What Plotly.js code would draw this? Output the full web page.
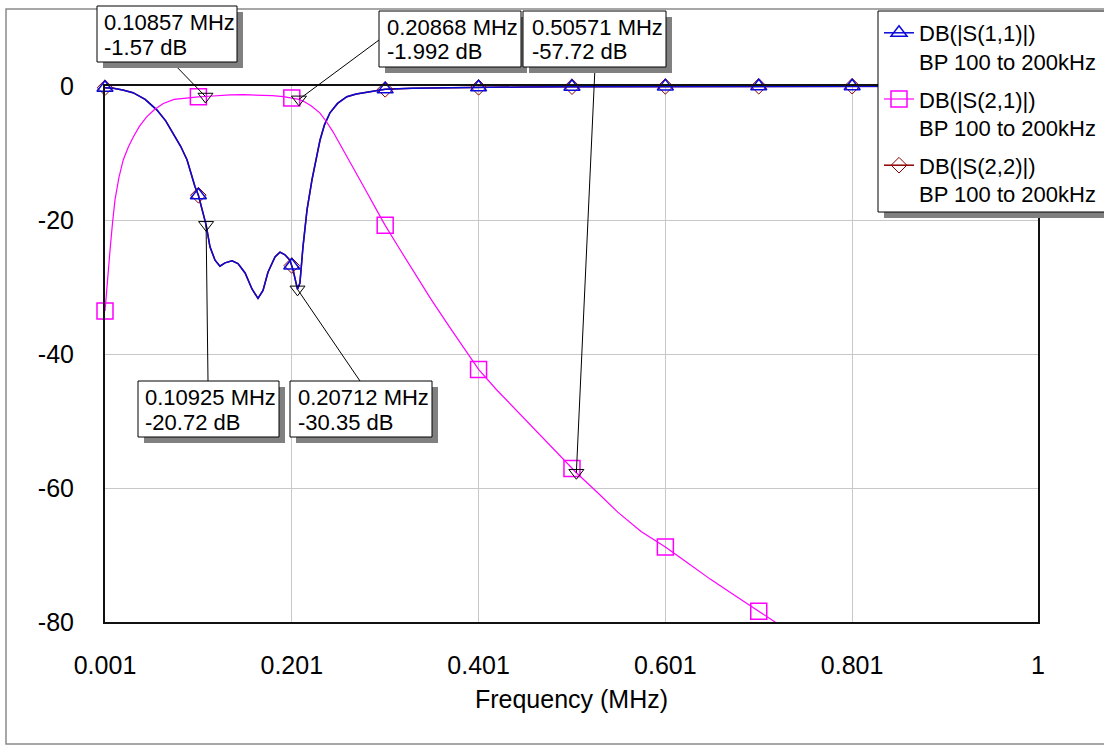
<!DOCTYPE html>
<html><head><meta charset="utf-8">
<script src="https://cdn.plot.ly/plotly-3.0.1.min.js"></script>
<style>html,body{margin:0;padding:0;background:#fff;} #chart{width:1104px;height:745px;}</style>
</head><body><div id="chart"></div>
<script>
// ---------- DATA ----------
const freqS21 = [0.001,0.0035,0.0064,0.009,0.0117,0.016,0.0206,0.026,0.0313,0.038,0.0456,0.054,0.0634,0.075,0.0885,0.101,0.10857,0.12,0.135,0.15,0.165,0.18,0.192,0.201,0.20868,0.215,0.222,0.231,0.238,0.245,0.254,0.263,0.272,0.2815,0.291,0.301,0.315,0.33,0.35,0.37,0.39,0.401,0.42,0.45,0.48,0.50571,0.53,0.55,0.575,0.601,0.625,0.649,0.675,0.701,0.725];
const dbS21 = [-33.6,-29.0,-24.5,-20.5,-17.0,-13.6,-11.0,-9.1,-7.6,-6.0,-4.6,-3.5,-2.6,-2.0,-1.75,-1.62,-1.57,-1.42,-1.32,-1.3,-1.35,-1.45,-1.6,-1.78,-1.992,-2.4,-3.0,-4.0,-5.3,-6.8,-9.0,-11.3,-13.6,-15.9,-18.3,-20.8,-24.0,-27.4,-31.8,-36.0,-40.1,-42.3,-45.3,-49.6,-53.9,-57.72,-60.9,-63.6,-66.5,-68.8,-71.2,-73.6,-76.0,-78.4,-80.6];

const freqS11 = [0.001,0.01,0.02,0.031,0.044,0.0567,0.066,0.0738,0.082,0.0888,0.0973,0.101,0.1045,0.1081,0.10925,0.1134,0.1188,0.1241,0.1295,0.137,0.1434,0.151,0.1584,0.1648,0.1702,0.1755,0.183,0.1884,0.1937,0.199,0.2023,0.20712,0.2097,0.213,0.2173,0.2226,0.228,0.2312,0.236,0.2419,0.25,0.26,0.27,0.2815,0.301,0.33,0.36,0.401,0.45,0.501,0.6,0.7,0.8,0.9,1.0];
const dbS11 = [-0.25,-0.35,-0.6,-1.0,-2.0,-3.6,-5.2,-7.0,-9.0,-11.0,-15.0,-16.3,-18.3,-20.0,-20.72,-24.0,-26.0,-26.9,-26.4,-26.1,-26.5,-27.9,-30.3,-31.7,-30.5,-27.8,-25.5,-24.8,-25.2,-26.0,-27.4,-30.35,-29.4,-24.0,-18.5,-14.0,-10.5,-8.1,-5.8,-4.0,-2.6,-1.6,-1.2,-0.9,-0.5,-0.35,-0.28,-0.2,-0.14,-0.1,-0.06,-0.04,-0.03,-0.02,-0.02];

const freqS22 = [0.001,0.01,0.02,0.031,0.044,0.0567,0.066,0.0738,0.082,0.0888,0.0973,0.101,0.1045,0.1081,0.10925,0.1134,0.1188,0.1241,0.1295,0.137,0.1434,0.151,0.1584,0.1648,0.1702,0.1755,0.183,0.1884,0.1937,0.199,0.2023,0.20712,0.2097,0.213,0.2173,0.2226,0.228,0.2312,0.236,0.2419,0.25,0.26,0.27,0.2815,0.301,0.33,0.36,0.401,0.45,0.501,0.6,0.7,0.8,0.9,1.0];
const dbS22 = [-0.25,-0.35,-0.6,-1.0,-2.0,-3.6,-5.2,-7.0,-9.0,-11.0,-15.0,-16.3,-18.3,-20.0,-20.72,-24.0,-26.0,-26.9,-26.4,-26.1,-26.5,-27.9,-30.3,-31.7,-30.5,-27.8,-25.5,-24.8,-25.2,-26.0,-27.4,-30.35,-29.4,-24.0,-18.5,-14.0,-10.5,-8.1,-5.8,-4.0,-2.6,-1.6,-1.2,-0.9,-0.5,-0.35,-0.28,-0.2,-0.14,-0.1,-0.06,-0.04,-0.03,-0.02,-0.02];

const markFreqS11 = [0.001,0.101,0.201,0.301,0.401,0.501,0.601,0.701,0.801,0.901];
const markDbS11   = [-0.25,-16.3,-26.8,-0.5,-0.2,-0.1,-0.06,-0.04,-0.03,-0.02];
const markFreqS22 = [0.001,0.101,0.201,0.301,0.401,0.501,0.601,0.701,0.801,0.901];
const markDbS22   = [-0.25,-16.3,-26.8,-0.5,-0.2,-0.1,-0.06,-0.04,-0.03,-0.02];
const markFreqS21 = [0.001,0.101,0.201,0.301,0.401,0.501,0.601,0.701];
const markDbS21   = [-33.6,-1.62,-1.78,-20.8,-42.3,-57.1,-68.8,-78.4];

const seriesLine1 = ['DB(|S(1,1)|)','DB(|S(2,1)|)','DB(|S(2,2)|)'];
const seriesLine2 = ['BP 100 to 200kHz','BP 100 to 200kHz','BP 100 to 200kHz'];

const readoutFreq = [0.10857,0.20868,0.50571,0.10925,0.20712];
const readoutDb   = [-1.57,-1.992,-57.72,-20.72,-30.35];
const readoutLine1 = ['0.10857 MHz','0.20868 MHz','0.50571 MHz','0.10925 MHz','0.20712 MHz'];
const readoutLine2 = ['-1.57 dB','-1.992 dB','-57.72 dB','-20.72 dB','-30.35 dB'];

const xTickVals = [0.001,0.201,0.401,0.601,0.801,1];
const xTickText = ['0.001','0.201','0.401','0.601','0.801','1'];
const yTickVals = [0,-20,-40,-60,-80];
const yTickText = ['0','-20','-40','-60','-80'];
const xTitle = 'Frequency (MHz)';

// ---------- LAYOUT GEOMETRY (pixels) ----------
const W = 1104, H = 745;
const L = 105, R = 1038, T = 86, B = 622;
const X_RANGE = [0.001, 1], Y_RANGE = [-80, 0];
const pxX = px => (px - L) / (R - L);
const pxY = py => (B - py) / (B - T);
const dataX = f => (f - X_RANGE[0]) / (X_RANGE[1] - X_RANGE[0]);
const dataY = d => (d - Y_RANGE[0]) / (Y_RANGE[1] - Y_RANGE[0]);

// readout boxes: box rect, text left, leader start point
const boxes = [
  {x0:97,  y0:6,   x1:237, y1:62,  tx:102, lx:172, ly:62},
  {x0:379, y0:11,  x1:521, y1:67,  tx:385, lx:379, ly:40},
  {x0:523, y0:11,  x1:666, y1:67,  tx:530, lx:595, ly:67},
  {x0:138, y0:381, x1:279, y1:437, tx:143, lx:208, ly:381},
  {x0:290, y0:381, x1:432, y1:437, tx:296, lx:360, ly:381}
];

const FONT = 'Liberation Sans, Arial, sans-serif';
const BLUE = '#0a0ad8', MAG = '#ff00ff', DRED = '#8b0000';

const traces = [
  {x: freqS22, y: dbS22, mode:'lines', line:{color:DRED, width:1.5}, showlegend:false, hoverinfo:'skip'},
  {x: freqS11, y: dbS11, mode:'lines', line:{color:BLUE, width:1.5}, showlegend:false, hoverinfo:'skip'},
  {x: freqS21, y: dbS21, mode:'lines', line:{color:MAG, width:1.2}, showlegend:false, hoverinfo:'skip'},
  {x: markFreqS22, y: markDbS22, mode:'markers', cliponaxis:false, showlegend:false,
   marker:{symbol:'diamond-open', size:12, color:DRED, line:{width:1}}},
  {x: markFreqS11, y: markDbS11, mode:'markers', cliponaxis:false, showlegend:false,
   marker:{symbol:'triangle-up-open', size:14, color:BLUE, line:{width:1.5}}},
  {x: markFreqS21, y: markDbS21, mode:'markers', cliponaxis:false, showlegend:false,
   marker:{symbol:'square-open', size:16, color:MAG, line:{width:1.5}}},
  {x: readoutFreq, y: readoutDb, mode:'markers', cliponaxis:false, showlegend:false,
   marker:{symbol:'triangle-down-open', size:13, color:'#000', line:{width:1}}},
  // legend entries
  {x:[null], y:[null], mode:'lines+markers', name:seriesLine1[0]+'<br>'+seriesLine2[0], legendgroup:'a',
   line:{color:BLUE, width:1.5}, marker:{symbol:'triangle-up-open', size:14, color:BLUE, line:{width:1.5}}},
  {x:[null], y:[null], mode:'lines+markers', name:seriesLine1[1]+'<br>'+seriesLine2[1], legendgroup:'b',
   line:{color:MAG, width:1.2}, marker:{symbol:'square-open', size:16, color:MAG, line:{width:1.5}}},
  {x:[null], y:[null], mode:'lines+markers', name:seriesLine1[2]+'<br>'+seriesLine2[2], legendgroup:'c',
   line:{color:DRED, width:1.5}, marker:{symbol:'diamond-open', size:12, color:DRED, line:{width:1}}}
];

const shapes = [];
const annotations = [];
// outer frame
shapes.push({type:'rect', xref:'paper', yref:'paper', x0:pxX(6), y0:pxY(744), x1:pxX(1140), y1:pxY(9),
  line:{color:'#8a8a8a', width:1.5}, fillcolor:'rgba(0,0,0,0)', layer:'below'});
// legend shadow + box (box runs past the right edge, as in the reference)
shapes.push({type:'rect', xref:'paper', yref:'paper', x0:pxX(884), y0:pxY(218), x1:pxX(1140), y1:pxY(17),
  line:{width:0}, fillcolor:'#808080', layer:'above'});
shapes.push({type:'rect', xref:'paper', yref:'paper', x0:pxX(878), y0:pxY(212), x1:pxX(1140), y1:pxY(11),
  line:{color:'#000', width:1}, fillcolor:'#fff', layer:'above'});
// leader lines
boxes.forEach((b,i)=>{
  shapes.push({type:'line', xref:'paper', yref:'paper', x0:dataX(readoutFreq[i]), y0:dataY(readoutDb[i]),
    x1:pxX(b.lx), y1:pxY(b.ly), line:{color:'#000', width:1}, layer:'above'});
});
boxes.forEach((b,i)=>{
  shapes.push({type:'rect', xref:'paper', yref:'paper', x0:pxX(b.x0+6), y0:pxY(b.y1+6), x1:pxX(b.x1+6), y1:pxY(b.y0+6),
    line:{width:0}, fillcolor:'#808080', layer:'above'});
  shapes.push({type:'rect', xref:'paper', yref:'paper', x0:pxX(b.x0), y0:pxY(b.y1), x1:pxX(b.x1), y1:pxY(b.y0),
    line:{color:'#000', width:1}, fillcolor:'#fff', layer:'above'});
  annotations.push({xref:'paper', yref:'paper', x:pxX(b.tx), y:pxY(b.y0+16), xanchor:'left', yanchor:'middle',
    text:readoutLine1[i], showarrow:false, font:{family:FONT, size:22, color:'#000'}});
  annotations.push({xref:'paper', yref:'paper', x:pxX(b.tx), y:pxY(b.y0+41), xanchor:'left', yanchor:'middle',
    text:readoutLine2[i], showarrow:false, font:{family:FONT, size:22, color:'#000'}});
});

const layout = {
  width: W, height: H,
  margin: {l:L, r:W-R, t:T, b:H-B, autoexpand:false},
  paper_bgcolor:'#fff', plot_bgcolor:'#fff',
  font: {family: FONT, color:'#000'},
  showlegend: true,
  legend: {x:pxX(879), y:pxY(12), xanchor:'left', yanchor:'top', bgcolor:'rgba(0,0,0,0)', borderwidth:0,
    font:{family:FONT, size:22, color:'#000'}, valign:'top', traceorder:'grouped', tracegroupgap:6, itemwidth:30},
  xaxis: {range:X_RANGE, tickvals:xTickVals, ticktext:xTickText, showgrid:true, gridcolor:'#c8c8c8', gridwidth:1,
    zeroline:false, showline:true, mirror:true, linecolor:'#111', linewidth:2, ticks:'',
    tickfont:{family:FONT, size:25, color:'#000'}, ticklabelstandoff:20,
    title:{text:xTitle, font:{family:FONT, size:25, color:'#000'}}},
  yaxis: {range:Y_RANGE, tickvals:yTickVals, ticktext:yTickText, showgrid:true, gridcolor:'#c8c8c8', gridwidth:1,
    zeroline:false, showline:true, mirror:true, linecolor:'#111', linewidth:2, ticks:'',
    tickfont:{family:FONT, size:25, color:'#000'}, ticklabelstandoff:24},
  shapes: shapes,
  annotations: annotations
};

Plotly.newPlot('chart', traces, layout, {staticPlot:true, displayModeBar:false});
</script>
</body></html>
